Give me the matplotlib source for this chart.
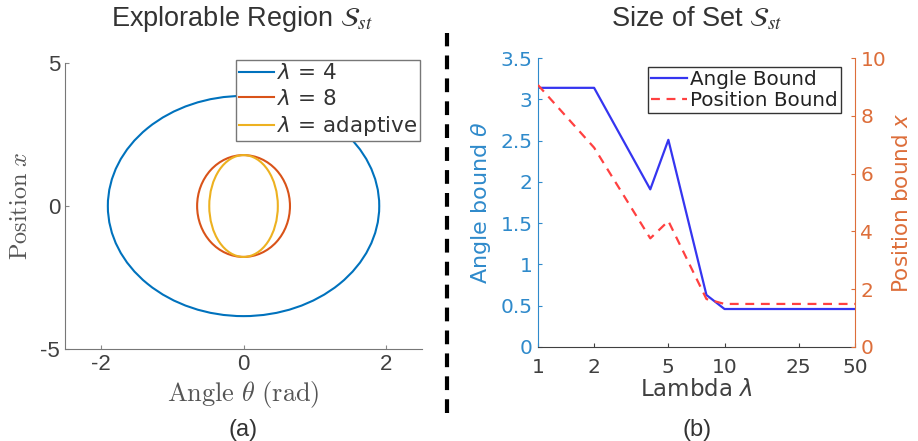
import matplotlib
matplotlib.use("Agg")
import matplotlib.pyplot as plt
from matplotlib.patches import Ellipse
from matplotlib.lines import Line2D

# explorable region: semi-axes (angle, position) of each set
region_labels = [r"$\lambda$ = 4", r"$\lambda$ = 8", r"$\lambda$ = adaptive"]
region_colors = ["#0072BD", "#D95319", "#EDB120"]
semi_angle = [1.9, 0.65, 0.48]
semi_pos = [3.85, 1.78, 1.78]

# size of set vs lambda
lambdas = [1, 2, 4, 5, 8, 10, 50]
angle_bound = [3.14, 3.14, 1.91, 2.51, 0.63, 0.46, 0.46]
pos_bound = [9.07, 6.9, 3.76, 4.36, 1.66, 1.49, 1.49]
lam_ticks = [1, 2, 5, 10, 25, 50]

blue_lbl = "#2F8ACB"
orange_lbl = "#DD6E3A"
gray = "#404040"

fig = plt.figure(figsize=(9.18, 4.41), dpi=100)

# ---- (a) ----
ax = fig.add_axes([0.0708, 0.2086, 0.389, 0.6485])
for a, b, c in zip(semi_angle, semi_pos, region_colors):
    ax.add_patch(Ellipse((0, 0), 2 * a, 2 * b, fill=False, edgecolor=c, lw=1.5))
ax.set_xlim(-2.5, 2.5)
ax.set_ylim(-5, 5)
ax.set_xticks([-2, 0, 2])
ax.set_yticks([-5, 0, 5])
ax.set_xticklabels(["-2", "0", "2"], fontfamily="Liberation Sans", fontsize=16, color=gray)
ax.set_yticklabels(["-5", "0", "5"], fontfamily="Liberation Sans", fontsize=16, color=gray)
ax.tick_params(direction="in", length=3, color="#888888")
for s in ["top", "right"]:
    ax.spines[s].set_visible(False)
for s in ["left", "bottom"]:
    ax.spines[s].set_color("#777777")
ax.set_xlabel(r"$\mathrm{Angle}\ \theta\ \mathrm{(rad)}$", fontsize=19, color="#555555",
              math_fontfamily="cm", labelpad=3)
ax.set_ylabel(r"$\mathrm{Position}\ x$", fontsize=17.5, color="#555555",
              math_fontfamily="cm", labelpad=6)
handles = [Line2D([], [], color=c, lw=1.5) for c in region_colors]
leg = ax.legend(handles, region_labels, loc="upper right", bbox_to_anchor=(0.995, 1.01),
                prop={"family": "DejaVu Sans", "size": 15.5}, fancybox=False,
                edgecolor="#777777", handlelength=1.6, handletextpad=0.15,
                borderpad=0.15, labelspacing=0.25, borderaxespad=0, framealpha=1)
leg.get_frame().set_linewidth(1.0)
for t in leg.get_texts():
    t.set_color("#333333")
fig.text(0.263, 0.99, r"Explorable Region $\mathcal{S}_{st}$", ha="center", va="top",
         fontsize=19.5, fontfamily="Liberation Sans", color="#333333", math_fontfamily="stix")
fig.text(0.265, 0.0, "(a)", ha="center", va="bottom", fontsize=17,
         fontfamily="Liberation Sans", color="#333333")

# ---- (b) ----
bx = fig.add_axes([0.586, 0.2132, 0.3453, 0.655])
bx.plot(lambdas, angle_bound, color="#3535F0", lw=1.6, label="Angle Bound")
bx.set_xscale("log")
bx.set_xlim(1, 50)
bx.set_ylim(0, 3.5)
bx.set_xticks(lam_ticks)
bx.set_xticklabels([str(v) for v in lam_ticks])
bx.minorticks_off()
bx.set_yticks([0, 0.5, 1, 1.5, 2, 2.5, 3, 3.5])
bx.set_yticklabels(["0", "0.5", "1", "1.5", "2", "2.5", "3", "3.5"])
bx.tick_params(axis="x", direction="in", length=3, labelsize=14.5, colors=gray, pad=8)
bx.tick_params(axis="y", direction="in", length=3, labelsize=14.5, colors=blue_lbl, pad=4)
bx.spines["top"].set_visible(False)
bx.spines["right"].set_visible(False)
bx.spines["left"].set_color(blue_lbl)
bx.spines["bottom"].set_color(gray)
bx.set_ylabel(r"Angle bound $\theta$", fontsize=16, color=blue_lbl, labelpad=5)
bx.set_xlabel(r"Lambda $\lambda$", fontsize=16.5, color=gray, labelpad=1)

bx2 = bx.twinx()
bx2.plot(lambdas, pos_bound, color="#FF4040", lw=1.6, ls=(0, (4, 3)), label="Position Bound")
bx2.set_ylim(0, 10)
bx2.set_yticks([0, 2, 4, 6, 8, 10])
bx2.tick_params(axis="y", direction="in", length=3, labelsize=14.5, colors=orange_lbl, pad=4)
for s in ["top", "left", "bottom"]:
    bx2.spines[s].set_visible(False)
bx2.spines["right"].set_color(orange_lbl)
bx2.set_ylabel(r"Position bound $x$", fontsize=15.5, color=orange_lbl, labelpad=4)

h1, l1 = bx.get_legend_handles_labels()
h2, l2 = bx2.get_legend_handles_labels()
leg2 = bx2.legend(h1 + h2, l1 + l2, loc="upper right", bbox_to_anchor=(0.955, 0.97),
                  prop={"size": 14.3}, fancybox=False, edgecolor="#333333",
                  handlelength=1.8, handletextpad=0.15, borderpad=0.15,
                  labelspacing=0.1, borderaxespad=0, framealpha=1)
for t in leg2.get_texts():
    t.set_color("#222222")
fig.text(0.759, 0.99, r"Size of Set $\mathcal{S}_{st}$", ha="center", va="top",
         fontsize=19.5, fontfamily="Liberation Sans", color="#333333", math_fontfamily="stix")
fig.text(0.759, 0.0, "(b)", ha="center", va="bottom", fontsize=17,
         fontfamily="Liberation Sans", color="#333333")

# separator
fig.add_artist(Line2D([0.487, 0.487], [0.063, 0.925], transform=fig.transFigure,
                      color="black", lw=3, ls=(0, (3.3, 2.2))))

fig.savefig("out.png", dpi=100)
